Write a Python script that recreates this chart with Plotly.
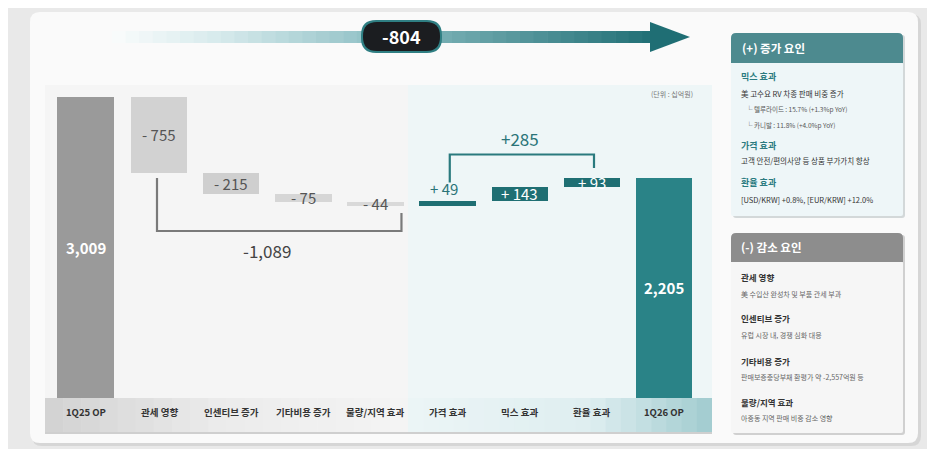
import plotly.graph_objects as go

# page body has an 8px margin, so the figure is sized to fit the 935x457 window
OFF = 8
W, H = 935 - 2 * OFF, 457 - 2 * OFF

# ---------------- data ----------------
categories = ["1Q25 OP", "관세 영향", "인센티브 증가", "기타비용 증가", "물량/지역 효과",
              "가격 효과", "믹스 효과", "환율 효과", "1Q26 OP"]
values = [3009, -755, -215, -75, -44, 49, 143, 93, 2205]
measures = ["absolute", "relative", "relative", "relative", "relative",
            "relative", "relative", "relative", "absolute"]
bar_colors = ["#9a9a9a", "#d2d2d2", "#cfcfcf", "#d6d6d6", "#d9d9d9",
              "#1f6f73", "#1f6f73", "#1f6f73", "#2a8387"]
text_colors = ["#ffffff", "#555555", "#555555", "#555555", "#555555",
               "#2a7478", "#ffffff", "#ffffff", "#ffffff"]
label_pos = ["center", "center", "center", "center", "center",
             "above", "center", "center", "center"]
bar_widths = [0.78] * 9
bar_offsets = [-0.41, -0.39, -0.39, -0.39, -0.39, -0.39, -0.39, -0.39, -0.39]

unit_text = "(단위 : 십억원)"

plus_title = "(+) 증가 요인"
plus_items = [
    ("믹스 효과", ["美 고수요 RV 차종 판매 비중 증가",
                 "└ 텔루라이드 : 15.7% (+1.3%p YoY)",
                 "└ 카니발 : 11.8% (+4.0%p YoY)"]),
    ("가격 효과", ["고객 안전/편의사양 등 상품 부가가치 향상"]),
    ("환율 효과", ["[USD/KRW] +0.8%, [EUR/KRW] +12.0%"]),
]
minus_title = "(-) 감소 요인"
minus_items = [
    ("관세 영향", ["美 수입산 완성차 및 부품 관세 부과"]),
    ("인센티브 증가", ["유럽 시장 내, 경쟁 심화 대응"]),
    ("기타비용 증가", ["판매보증충당부채 환평가 약 -2,557억원 등"]),
    ("물량/지역 효과", ["아중동 지역 판매 비중 감소 영향"]),
]

FONT = "Noto Sans CJK KR"

# ---------------- waterfall bases ----------------
bases = []
running = 0
for v, m in zip(values, measures):
    if m == "absolute":
        bases.append(0)
        running = v
    else:
        bases.append(running)
        running += v

def fmt(v, m):
    if m == "absolute":
        return f"{v:,}"
    return f"{'+' if v > 0 else '-'} {abs(v):,}"

neg_sum = sum(v for v, m in zip(values, measures) if m == "relative" and v < 0)
pos_sum = sum(v for v, m in zip(values, measures) if m == "relative" and v > 0)
total_change = values[-1] - values[0]

# ---------------- helpers (window pixel -> paper) ----------------
def X(px):
    return (px - OFF) / W

def Y(py):
    return 1 - (py - OFF) / H

def rrect(x0, y0, x1, y1, r, top_only=False):
    rt = r
    rb = 0 if top_only else r
    p = f"M {X(x0 + rt)},{Y(y0)} L {X(x1 - rt)},{Y(y0)} Q {X(x1)},{Y(y0)} {X(x1)},{Y(y0 + rt)} "
    p += f"L {X(x1)},{Y(y1 - rb)} Q {X(x1)},{Y(y1)} {X(x1 - rb)},{Y(y1)} "
    p += f"L {X(x0 + rb)},{Y(y1)} Q {X(x0)},{Y(y1)} {X(x0)},{Y(y1 - rb)} "
    p += f"L {X(x0)},{Y(y0 + rt)} Q {X(x0)},{Y(y0)} {X(x0 + rt)},{Y(y0)} Z"
    return p

shapes = []
annotations = []

def rect(x0, y0, x1, y1, color, layer="below"):
    shapes.append(dict(type="rect", xref="paper", yref="paper",
                       x0=X(x0), x1=X(x1), y0=Y(y1), y1=Y(y0),
                       fillcolor=color, line=dict(width=0), layer=layer))

def path(p, color, layer="below"):
    shapes.append(dict(type="path", xref="paper", yref="paper", path=p,
                       fillcolor=color, line=dict(width=0), layer=layer))

def lerp(c0, c1, t):
    return "rgb(%d,%d,%d)" % tuple(round(a + (b - a) * t) for a, b in zip(c0, c1))

def gradient(x0, y0, x1, y1, stops, n=30):
    for i in range(n):
        t = (i + 0.5) / n
        c = None
        for j in range(len(stops) - 1):
            if stops[j][0] <= t <= stops[j + 1][0]:
                tt = (t - stops[j][0]) / (stops[j + 1][0] - stops[j][0])
                c = lerp(stops[j][1], stops[j + 1][1], tt)
                break
        xa = x0 + (x1 - x0) * i / n
        xb = min(x1, x0 + (x1 - x0) * (i + 1) / n + 0.6)
        rect(xa, y0, xb, y1, c)

def text(x, y, s, size, color, xanchor="center", bold=False):
    annotations.append(dict(xref="paper", yref="paper", x=X(x), y=Y(y),
                            xanchor=xanchor, yanchor="middle",
                            text=f"<b>{s}</b>" if bold else s, showarrow=False,
                            font=dict(family=FONT, size=size, color=color)))

# ---------------- background card ----------------
path(rrect(32, 14, 921, 446, 10), "#d6d6d6")
path(rrect(30, 12, 918, 443, 10), "#fafafa")
rect(45, 85, 408, 398, "#f5f5f5")
rect(408, 85, 712, 398, "#eef6f7")

# label bands
gradient(45, 398, 408, 433, [(0, (210, 210, 210)), (0.5, (236, 236, 236)), (1, (244, 244, 244))], n=20)
gradient(408, 398, 712, 433, [(0, (236, 245, 246)), (0.6, (222, 238, 240)), (1, (160, 203, 207))], n=20)
rect(45, 432, 712, 434, "#cfcfcf")

# top arrow
gradient(112, 31, 656, 43, [(0, (250, 252, 252)), (0.2, (214, 234, 236)),
                           (0.5, (140, 190, 195)), (1, (31, 110, 116))], n=40)
path(f"M {X(650)},{Y(22)} L {X(690)},{Y(37)} L {X(650)},{Y(52)} Z", "#1f6e74")
# pill
path(rrect(361, 20, 442, 53, 15), "#2f7f83")
path(rrect(363, 22, 440, 51, 14), "#1b1d20")
text(401, 36.5, f"{total_change:,}", 18, "#ffffff", bold=True)

# ---------------- side panels ----------------
path(rrect(733, 35, 905, 218, 3), "#d3d8d9")
path(rrect(731, 62, 903, 216, 2), "#eef6f8")
path(rrect(731, 33, 903, 63, 5, top_only=True), "#4d8a8f")
text(740, 48, plus_title, 11.5, "#ffffff", xanchor="left", bold=True)
plus_y = [[77, 93, 109, 125], [145, 161], [182, 199]]
for (title, lines), ys in zip(plus_items, plus_y):
    text(739, ys[0], title, 9, "#2b7b80", xanchor="left", bold=True)
    for ln, yy in zip(lines, ys[1:]):
        small = ln.startswith("└")
        text(744 if small else 739, yy, ln, 6.5 if small else 7.5,
             "#555555" if small else "#333333", xanchor="left")

path(rrect(733, 235, 905, 435, 3), "#d0d0d0")
path(rrect(731, 261, 903, 433, 2), "#f6f6f6")
path(rrect(731, 233, 903, 262, 5, top_only=True), "#8d8d8d")
text(739, 247, minus_title, 11.5, "#ffffff", xanchor="left", bold=True)
minus_y = [(277, 294), (318, 335), (361, 377), (402, 418)]
for (title, lines), (ty, ly) in zip(minus_items, minus_y):
    text(739, ty, title, 8.5, "#333333", xanchor="left", bold=True)
    text(739, ly, lines[0], 7, "#666666", xanchor="left")

text(695, 94, unit_text, 7, "#777777", xanchor="right")

# ---------------- bars ----------------
fig = go.Figure()
fig.add_trace(go.Bar(
    x=categories, y=values, base=bases,
    width=bar_widths, offset=bar_offsets,
    marker=dict(color=bar_colors, line=dict(width=0)),
    hoverinfo="skip", showlegend=False,
))

CAT_PX = (664 - 159) / 7.0
for i, (c, v, m, b) in enumerate(zip(categories, values, measures, bases)):
    center_shift = (bar_offsets[i] + bar_widths[i] / 2) * CAT_PX
    if label_pos[i] == "above":
        yv, ya, xs = b + v, "bottom", -4
    else:
        yv, ya, xs = b + v / 2, "middle", 0
    bold = m == "absolute"
    annotations.append(dict(x=c, y=yv, xref="x", yref="y", xanchor="center", yanchor=ya,
                            xshift=center_shift + xs,
                            text=(f"<b>{fmt(v, m)}</b>" if bold else fmt(v, m)), showarrow=False,
                            font=dict(family=FONT, size=15, color=text_colors[i])))
    annotations.append(dict(x=c, y=Y(412), xref="x", yref="paper", xanchor="center",
                            yanchor="middle", xshift=center_shift,
                            text=f"<b>{c}</b>", showarrow=False,
                            font=dict(family=FONT, size=9.5, color="#333333")))

# brackets (built from data)
neg_idx = [i for i, (v, m) in enumerate(zip(values, measures)) if m == "relative" and v < 0]
pos_idx = [i for i, (v, m) in enumerate(zip(values, measures)) if m == "relative" and v > 0]
n0, n1 = neg_idx[0], neg_idx[-1]
p0, p1 = pos_idx[0], pos_idx[-1]
neg_low = min(bases[n1] + values[n1], bases[n0] + values[n0]) - 250
shapes.append(dict(type="path", xref="x", yref="y",
                   path=(f"M {n0 - 0.03},{bases[n0] + values[n0] - 55} L {n0 - 0.03},{neg_low} "
                         f"L {n1 + 0.36},{neg_low} L {n1 + 0.36},{bases[n1] + values[n1] - 70}"),
                   line=dict(color="#7a7a7a", width=2.2), layer="above"))
annotations.append(dict(x=(n0 + n1) / 2, y=neg_low - 190, xref="x", yref="y",
                        xanchor="center", yanchor="middle",
                        text=f"{neg_sum:,}", showarrow=False,
                        font=dict(family=FONT, size=17, color="#444444")))
pos_high = max(bases[p1] + values[p1], bases[p0] + values[p0]) + 230
shapes.append(dict(type="path", xref="x", yref="y",
                   path=(f"M {p0 + 0.03},{bases[p0] + values[p0] + 185} L {p0 + 0.03},{pos_high} "
                         f"L {p1 + 0.03},{pos_high} L {p1 + 0.03},{bases[p1] + values[p1] + 95}"),
                   line=dict(color="#2a7a7e", width=2.2), layer="above"))
annotations.append(dict(x=(p0 + p1) / 2, y=pos_high + 165, xref="x", yref="y",
                        xanchor="center", yanchor="middle",
                        text=f"+{pos_sum:,}", showarrow=False,
                        font=dict(family=FONT, size=17, color="#2a7478")))

fig.update_layout(
    width=W, height=H,
    margin=dict(l=0, r=0, t=0, b=0),
    paper_bgcolor="#e9e9e9",
    plot_bgcolor="rgba(0,0,0,0)",
    bargap=0,
    xaxis=dict(domain=[X(51), X(700)], type="category", categoryorder="array",
               categoryarray=categories, range=[-0.5, 8.5], fixedrange=True,
               showticklabels=False, showgrid=False, zeroline=False, showline=False, ticks=""),
    yaxis=dict(domain=[Y(398), Y(68)], range=[0, 3300], fixedrange=True,
               showticklabels=False, showgrid=False, zeroline=False, showline=False, ticks=""),
    shapes=shapes,
    annotations=annotations,
    font=dict(family=FONT),
)

fig.write_html("out.html")
